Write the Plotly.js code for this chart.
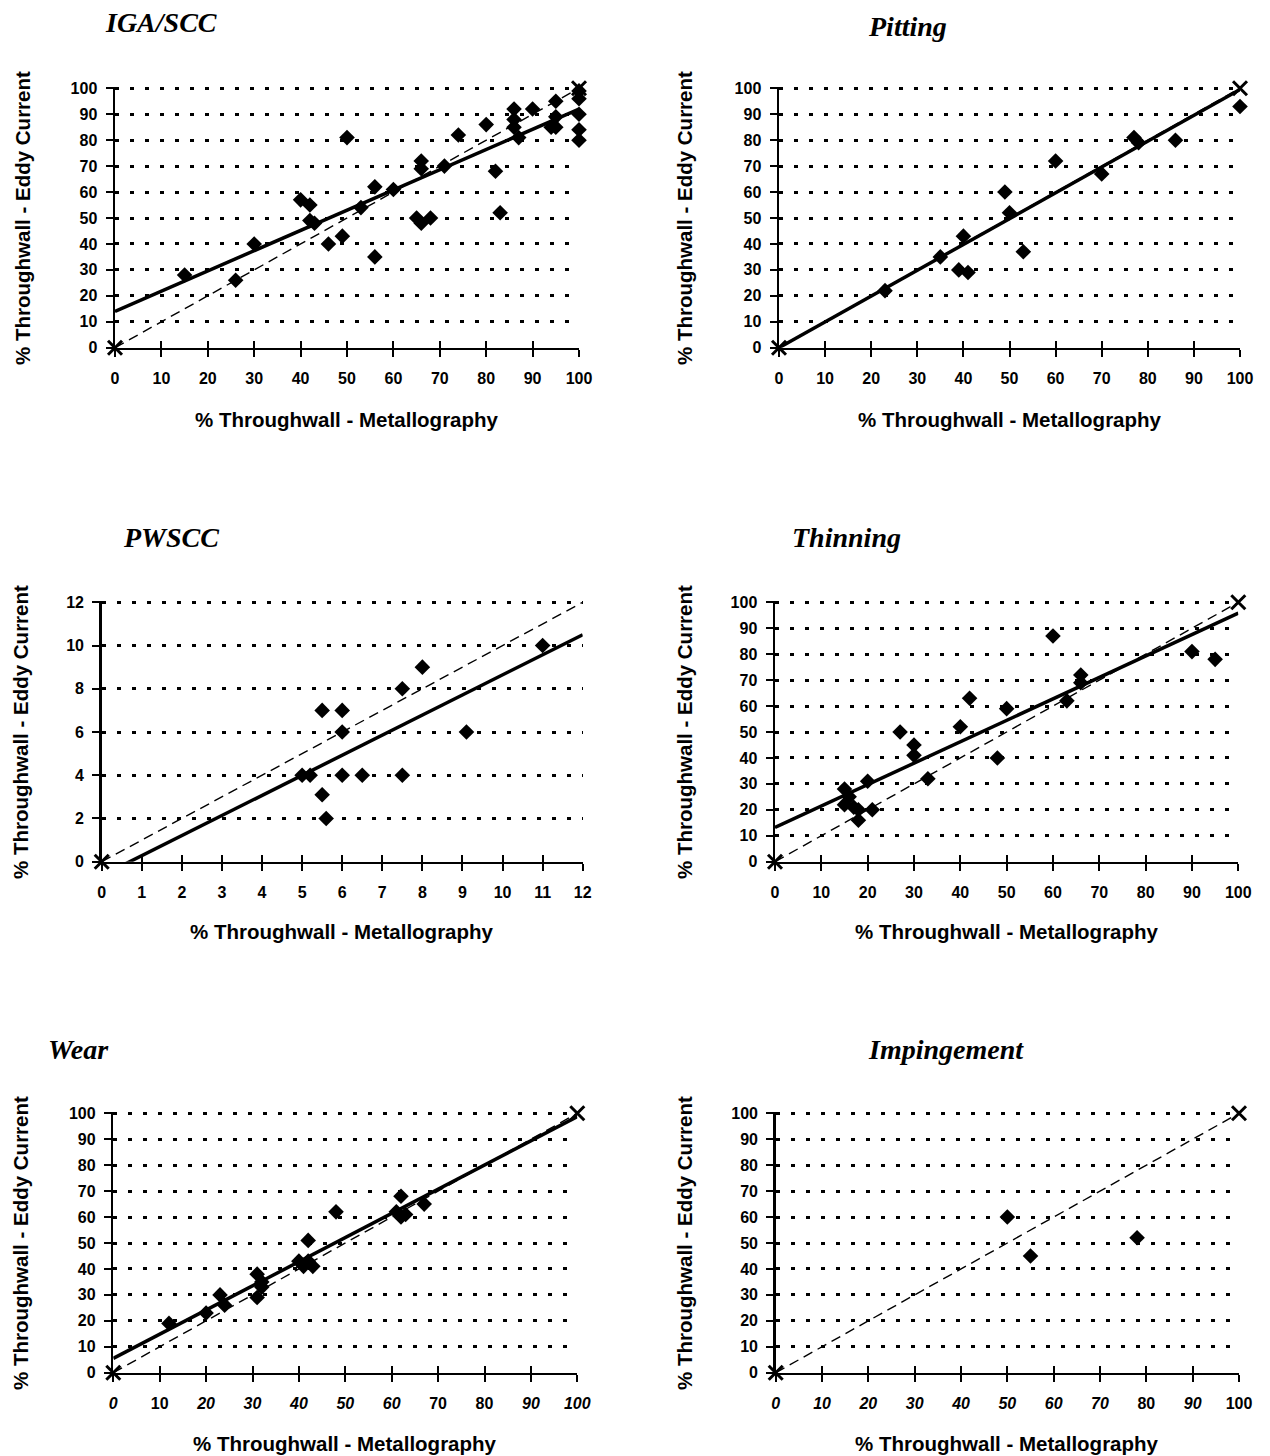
<!DOCTYPE html>
<html><head><meta charset="utf-8">
<script src="https://cdn.plot.ly/plotly-3.0.1.min.js"></script>
<style>html,body{margin:0;padding:0;background:#fff}#chart{width:1270px;height:1456px}</style>
</head><body><div id="chart"></div>
<script>
// ---------- data ----------
const igaX = [15,26,30,40,42,42,43,46,49,50,53,56,56,60,65,66,68,66,66,71,74,80,82,83,86,86,86,87,90,94,95,95,95,100,100,100,100,100];
const igaY = [28,26,40,57,55,49,48,40,43,81,54,62,35,61,50,48,50,72,69,70,82,86,68,52,92,88,85,81,92,85,95,89,85,99,96,90,84,80];
const igaFitX = [0,100];
const igaFitY = [14,92];

const pitX = [23,35,39,41,40,49,50,53,60,70,77,78,86,100];
const pitY = [22,35,30,29,43,60,52,37,72,67,81,79,80,93];
const pitFitX = [0,100];
const pitFitY = [0,99.5];

const pwX = [5,5.2,5.5,5.5,5.6,6,6,6,6.5,7.5,7.5,8,9.1,11];
const pwY = [4,4,7,3.1,2,7,6,4,4,8,4,9,6,10];
const pwFitX = [0.3,12];
const pwFitY = [-0.37,10.5];

const thinX = [15,15,16,17,18,18,20,21,27,30,30,33,40,42,48,50,60,63,66,66,90,95];
const thinY = [28,22,25,21,16,20,31,20,50,45,41,32,52,63,40,59,87,62,72,69,81,78];
const thinFitX = [0,100];
const thinFitY = [13.2,95.8];

const wearX = [12,20,23,24,31,31,32,32,40,41,42,43,42,48,61,62,63,62,67];
const wearY = [19,23,30,26,29,38,33,35,43,41,43,41,51,62,62,60,61,68,65];
const wearFitX = [0,100];
const wearFitY = [5.5,98.7];

const impX = [50,55,78];
const impY = [60,45,52];

// 1:1 reference lines and their end markers
const diag100 = [0,100];
const diag12 = [0,12];
const endXY100 = [0,100];
const endXY0 = [0];

// tick values / labels
const ticks100 = [0,10,20,30,40,50,60,70,80,90,100];
const ticks100Text = ['0','10','20','30','40','50','60','70','80','90','100'];
const ticks12 = [0,1,2,3,4,5,6,7,8,9,10,11,12];
const ticks12Text = ['0','1','2','3','4','5','6','7','8','9','10','11','12'];
const ticksY12 = [0,2,4,6,8,10,12];
const ticksY12Text = ['0','2','4','6','8','10','12'];
const wearXText = ['<i>0</i>','10','<i>20</i>','<i>30</i>','<i>40</i>','<i>50</i>','<i>60</i>','70','80','<i>90</i>','<i>100</i>'];
const impXText = ['<i>0</i>','<i>10</i>','<i>20</i>','<i>30</i>','<i>40</i>','<i>50</i>','<i>60</i>','<i>70</i>','80','<i>90</i>','100'];

const titles = ['IGA/SCC','Pitting','PWSCC','Thinning','Wear','Impingement'];
const xTitle = '% Throughwall - Metallography';
const yTitle = '% Throughwall - Eddy Current';

// ---------- layout ----------
const W = 1270, H = 1456;
const px = v => v / W;
const py = v => 1 - v / H;

const panels = [
  {x:igaX, y:igaY, fx:igaFitX, fy:igaFitY, dx:diag100, dy:diag100, ex:endXY100, ey:endXY100,
   box:[115,579,88.3,347.7], xr:100, yr:100, xt:ticks100, xtt:ticks100Text, yt:ticks100, ytt:ticks100Text,
   tpos:[103,23], ytx:22, xty:420},
  {x:pitX, y:pitY, fx:pitFitX, fy:pitFitY, dx:diag100, dy:diag100, ex:endXY100, ey:endXY100,
   box:[779,1240,88.3,347.7], xr:100, yr:100, xt:ticks100, xtt:ticks100Text, yt:ticks100, ytt:ticks100Text,
   tpos:[866,26], ytx:684, xty:420},
  {x:pwX, y:pwY, fx:pwFitX, fy:pwFitY, dx:diag12, dy:diag12, ex:endXY0, ey:endXY0,
   box:[101.7,582.7,602.3,861.7], xr:12, yr:12, xt:ticks12, xtt:ticks12Text, yt:ticksY12, ytt:ticksY12Text,
   tpos:[121,537], ytx:20, xty:932},
  {x:thinX, y:thinY, fx:thinFitX, fy:thinFitY, dx:diag100, dy:diag100, ex:endXY100, ey:endXY100,
   box:[775,1238.3,602.3,861.7], xr:100, yr:100, xt:ticks100, xtt:ticks100Text, yt:ticks100, ytt:ticks100Text,
   tpos:[790,537], ytx:684, xty:932},
  {x:wearX, y:wearY, fx:wearFitX, fy:wearFitY, dx:diag100, dy:diag100, ex:endXY100, ey:endXY100,
   box:[113.3,577.3,1113.3,1372.7], xr:100, yr:100, xt:ticks100, xtt:wearXText, yt:ticks100, ytt:ticks100Text,
   tpos:[46,1049], ytx:20, xty:1443},
  {x:impX, y:impY, fx:null, fy:null, dx:diag100, dy:diag100, ex:endXY100, ey:endXY100,
   box:[775.7,1239,1113.3,1372.7], xr:100, yr:100, xt:ticks100, xtt:impXText, yt:ticks100, ytt:ticks100Text,
   tpos:[866,1049], ytx:684, xty:1443}
];

const tickFont = {family:'Liberation Sans, Arial, sans-serif', size:16, color:'#000', weight:'bold'};
const labFont = {family:'Liberation Sans, Arial, sans-serif', size:20.5, color:'#000', weight:'bold'};
const titleFont = {family:'Liberation Serif, Times New Roman, serif', size:28, color:'#000', weight:'bold', style:'italic'};

const traces = [];
const layout = {
  width: W, height: H,
  margin: {l:0, r:0, t:0, b:0},
  paper_bgcolor: '#fff', plot_bgcolor: '#fff',
  showlegend: false,
  annotations: []
};

panels.forEach((p, k) => {
  const i = k + 1;
  const xs = i === 1 ? '' : String(i);
  const xo = String(i + 6);
  const xref = 'x' + xs, yref = 'y' + xs;
  const [x0, x1, yTop, yBot] = p.box;
  const yMaxR = p.yr * 1.004; // tiny headroom so the top dotted gridline is drawn

  layout['xaxis' + xs] = {
    domain: [px(x0), px(x1)], range: [0, p.xr], anchor: yref,
    tickmode: 'array', tickvals: p.xt, ticktext: p.xtt,
    ticks: 'outside', ticklen: 7, tickwidth: 2, tickcolor: '#000',
    showline: true, linewidth: 2.5, linecolor: '#000',
    showgrid: false, zeroline: false, tickfont: tickFont,
    ticklabelstandoff: 8, fixedrange: true
  };
  // overlay axis: gives the crossing (inside) half of each x tick
  layout['xaxis' + xo] = {
    overlaying: xref, anchor: yref, side: 'bottom',
    range: [0, p.xr], tickmode: 'array', tickvals: p.xt,
    ticks: 'inside', ticklen: 7, tickwidth: 2, tickcolor: '#000',
    showticklabels: false, showline: false, showgrid: false, zeroline: false, fixedrange: true
  };
  layout['yaxis' + xs] = {
    domain: [py(yBot), py(yTop - (yBot - yTop) * 0.004)], range: [0, yMaxR], anchor: xref,
    tickmode: 'array', tickvals: p.yt, ticktext: p.ytt,
    ticks: 'outside', ticklen: 7, tickwidth: 2, tickcolor: '#000',
    showline: true, linewidth: 2.5, linecolor: '#000',
    showgrid: true, gridcolor: '#000', gridwidth: 3, griddash: '4px,11px',
    zeroline: false, tickfont: tickFont, ticklabelstandoff: 5, fixedrange: true
  };

  traces.push({x: [], y: [], xaxis: 'x' + xo, yaxis: yref, type: 'scatter', mode: 'markers', hoverinfo: 'skip'});

  traces.push({x: p.dx, y: p.dy, xaxis: xref, yaxis: yref, type: 'scatter', mode: 'lines',
    line: {color: '#000', width: 1.4, dash: '10px,6px'}, hoverinfo: 'skip'});
  if (p.fx) {
    traces.push({x: p.fx, y: p.fy, xaxis: xref, yaxis: yref, type: 'scatter', mode: 'lines',
      line: {color: '#000', width: 3.5}, hoverinfo: 'skip'});
  }
  traces.push({x: p.x, y: p.y, xaxis: xref, yaxis: yref, type: 'scatter', mode: 'markers',
    marker: {symbol: 'diamond', size: 12, color: '#000'}, cliponaxis: false});
  traces.push({x: p.ex, y: p.ey, xaxis: xref, yaxis: yref, type: 'scatter', mode: 'markers',
    marker: {symbol: 'x-thin-open', size: 14, color: '#000', line: {color: '#000', width: 3}}, cliponaxis: false});

  layout.annotations.push({text: titles[k], xref: 'paper', yref: 'paper',
    x: px(p.tpos[0]), y: py(p.tpos[1]), xanchor: 'left', yanchor: 'middle', showarrow: false, font: titleFont});
  layout.annotations.push({text: yTitle, xref: 'paper', yref: 'paper', textangle: -90,
    x: px(p.ytx), y: py((yTop + yBot) / 2), xanchor: 'center', yanchor: 'middle', showarrow: false, font: labFont});
  layout.annotations.push({text: xTitle, xref: 'paper', yref: 'paper',
    x: px((x0 + x1) / 2), y: py(p.xty), xanchor: 'center', yanchor: 'middle', showarrow: false, font: labFont});
});

Plotly.newPlot('chart', traces, layout, {staticPlot: true, displayModeBar: false});
</script>
</body></html>
